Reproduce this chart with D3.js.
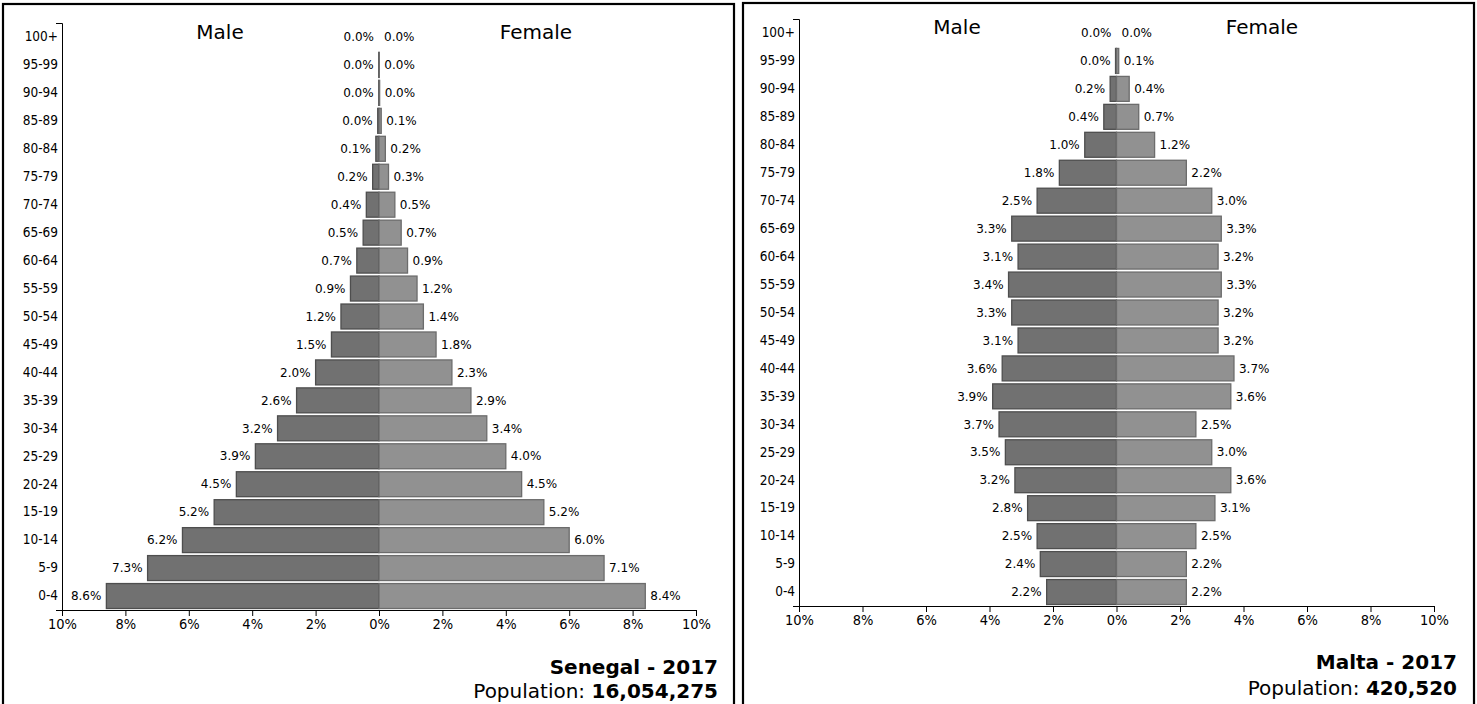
<!DOCTYPE html>
<html>
<head>
<meta charset="utf-8">
<script src="https://cdn.jsdelivr.net/npm/d3@7"></script>
<style>
  html, body { margin: 0; padding: 0; background: #fff; }
  svg { display: block; font-family: "DejaVu Sans", sans-serif; }
</style>
</head>
<body>
<svg id="chart" width="1477" height="704"></svg>
<script>
const ageGroups = ["100+","95-99","90-94","85-89","80-84","75-79","70-74","65-69","60-64","55-59","50-54","45-49","40-44","35-39","30-34","25-29","20-24","15-19","10-14","5-9","0-4"];
const xTicks = [-10,-8,-6,-4,-2,0,2,4,6,8,10];

const senegalMale   = [0.0,0.01,0.01,0.04,0.1,0.2,0.4,0.5,0.7,0.9,1.2,1.5,2.0,2.6,3.2,3.9,4.5,5.2,6.2,7.3,8.6];
const senegalFemale = [0.0,0.01,0.02,0.07,0.2,0.3,0.5,0.7,0.9,1.2,1.4,1.8,2.3,2.9,3.4,4.0,4.5,5.2,6.0,7.1,8.4];
const maltaMale     = [0.0,0.03,0.2,0.4,1.0,1.8,2.5,3.3,3.1,3.4,3.3,3.1,3.6,3.9,3.7,3.5,3.2,2.8,2.5,2.4,2.2];
const maltaFemale   = [0.0,0.07,0.4,0.7,1.2,2.2,3.0,3.3,3.2,3.3,3.2,3.2,3.7,3.6,2.5,3.0,3.6,3.1,2.5,2.2,2.2];

const panels = [
  { country: "Senegal", year: "2017", population: "16,054,275", male: senegalMale, female: senegalFemale,
    box: [3, 4, 731, 710], x0: 62, x1: 696, yTop: 23, yBot: 610, titleY: 32, titleMaleX: 220, titleFemaleX: 536,
    capX: 718, capY1: 674, capY2: 698 },
  { country: "Malta", year: "2017", population: "420,520", male: maltaMale, female: maltaFemale,
    box: [743, 3, 731, 710], x0: 799, x1: 1434, yTop: 19, yBot: 606, titleY: 27, titleMaleX: 957, titleFemaleX: 1262,
    capX: 1457, capY1: 669, capY2: 695 }
];

const svg = d3.select("#chart");

panels.forEach(p => {
  const g = svg.append("g");
  g.append("rect")
    .attr("x", p.box[0]).attr("y", p.box[1])
    .attr("width", p.box[2]).attr("height", p.box[3])
    .attr("fill", "none").attr("stroke", "#000").attr("stroke-width", 2.2);

  const x = d3.scaleLinear().domain([-10, 10]).range([p.x0, p.x1]);
  const y = d3.scaleBand().domain(ageGroups).range([p.yTop, p.yBot]).padding(0);
  const pad = 1.5;
  const bh = y.bandwidth() - 3;

  const rows = ageGroups.map((a, i) => ({ age: a, m: p.male[i], f: p.female[i] }));

  g.selectAll(".mbar").data(rows).enter().append("rect")
    .attr("x", d => x(-d.m)).attr("y", d => y(d.age) + pad)
    .attr("width", d => x(0) - x(-d.m)).attr("height", bh)
    .attr("fill", "#717171").attr("stroke", "#4e4e4e").attr("stroke-width", 1.3);
  g.selectAll(".fbar").data(rows).enter().append("rect")
    .attr("x", x(0)).attr("y", d => y(d.age) + pad)
    .attr("width", d => x(d.f) - x(0)).attr("height", bh)
    .attr("fill", "#919191").attr("stroke", "#6c6c6c").attr("stroke-width", 1.3);

  g.selectAll(".mlab").data(rows).enter().append("text")
    .attr("x", d => x(-d.m) - 5).attr("y", d => y(d.age) + y.bandwidth() / 2)
    .attr("dy", "0.35em").attr("text-anchor", "end")
    .attr("font-size", 12).attr("fill", "#000")
    .text(d => d.m.toFixed(1) + "%");
  g.selectAll(".flab").data(rows).enter().append("text")
    .attr("x", d => x(d.f) + 5).attr("y", d => y(d.age) + y.bandwidth() / 2)
    .attr("dy", "0.35em").attr("text-anchor", "start")
    .attr("font-size", 12).attr("fill", "#000")
    .text(d => d.f.toFixed(1) + "%");

  const xAxis = d3.axisBottom(x).tickValues(xTicks).tickFormat(d => Math.abs(d) + "%").tickSizeOuter(6);
  const gx = g.append("g").attr("transform", `translate(0,${p.yBot})`).call(xAxis);
  gx.selectAll("text").attr("font-size", 14.5).attr("font-family", "DejaVu Sans Condensed").attr("fill", "#000");
  gx.selectAll("path, line").attr("stroke", "#000");

  const yAxis = d3.axisLeft(y).tickSize(0).tickPadding(4).tickSizeOuter(6);
  const gy = g.append("g").attr("transform", `translate(${p.x0},0)`).call(yAxis);
  gy.selectAll("text").attr("font-size", 13.5).attr("font-family", "DejaVu Sans Condensed").attr("fill", "#000");
  gy.selectAll("path").attr("stroke", "#000");

  g.append("text").attr("x", p.titleMaleX).attr("y", p.titleY).attr("dy", "0.35em")
    .attr("text-anchor", "middle").attr("font-size", 20).text("Male");
  g.append("text").attr("x", p.titleFemaleX).attr("y", p.titleY).attr("dy", "0.35em")
    .attr("text-anchor", "middle").attr("font-size", 20).text("Female");

  g.append("text").attr("x", p.capX).attr("y", p.capY1).attr("text-anchor", "end")
    .attr("font-size", 20).attr("font-weight", "bold").text(`${p.country} - ${p.year}`);
  const cap2 = g.append("text").attr("x", p.capX).attr("y", p.capY2).attr("text-anchor", "end")
    .attr("font-size", 20);
  cap2.append("tspan").text("Population: ");
  cap2.append("tspan").attr("font-weight", "bold").text(p.population);
});
</script>
</body>
</html>
